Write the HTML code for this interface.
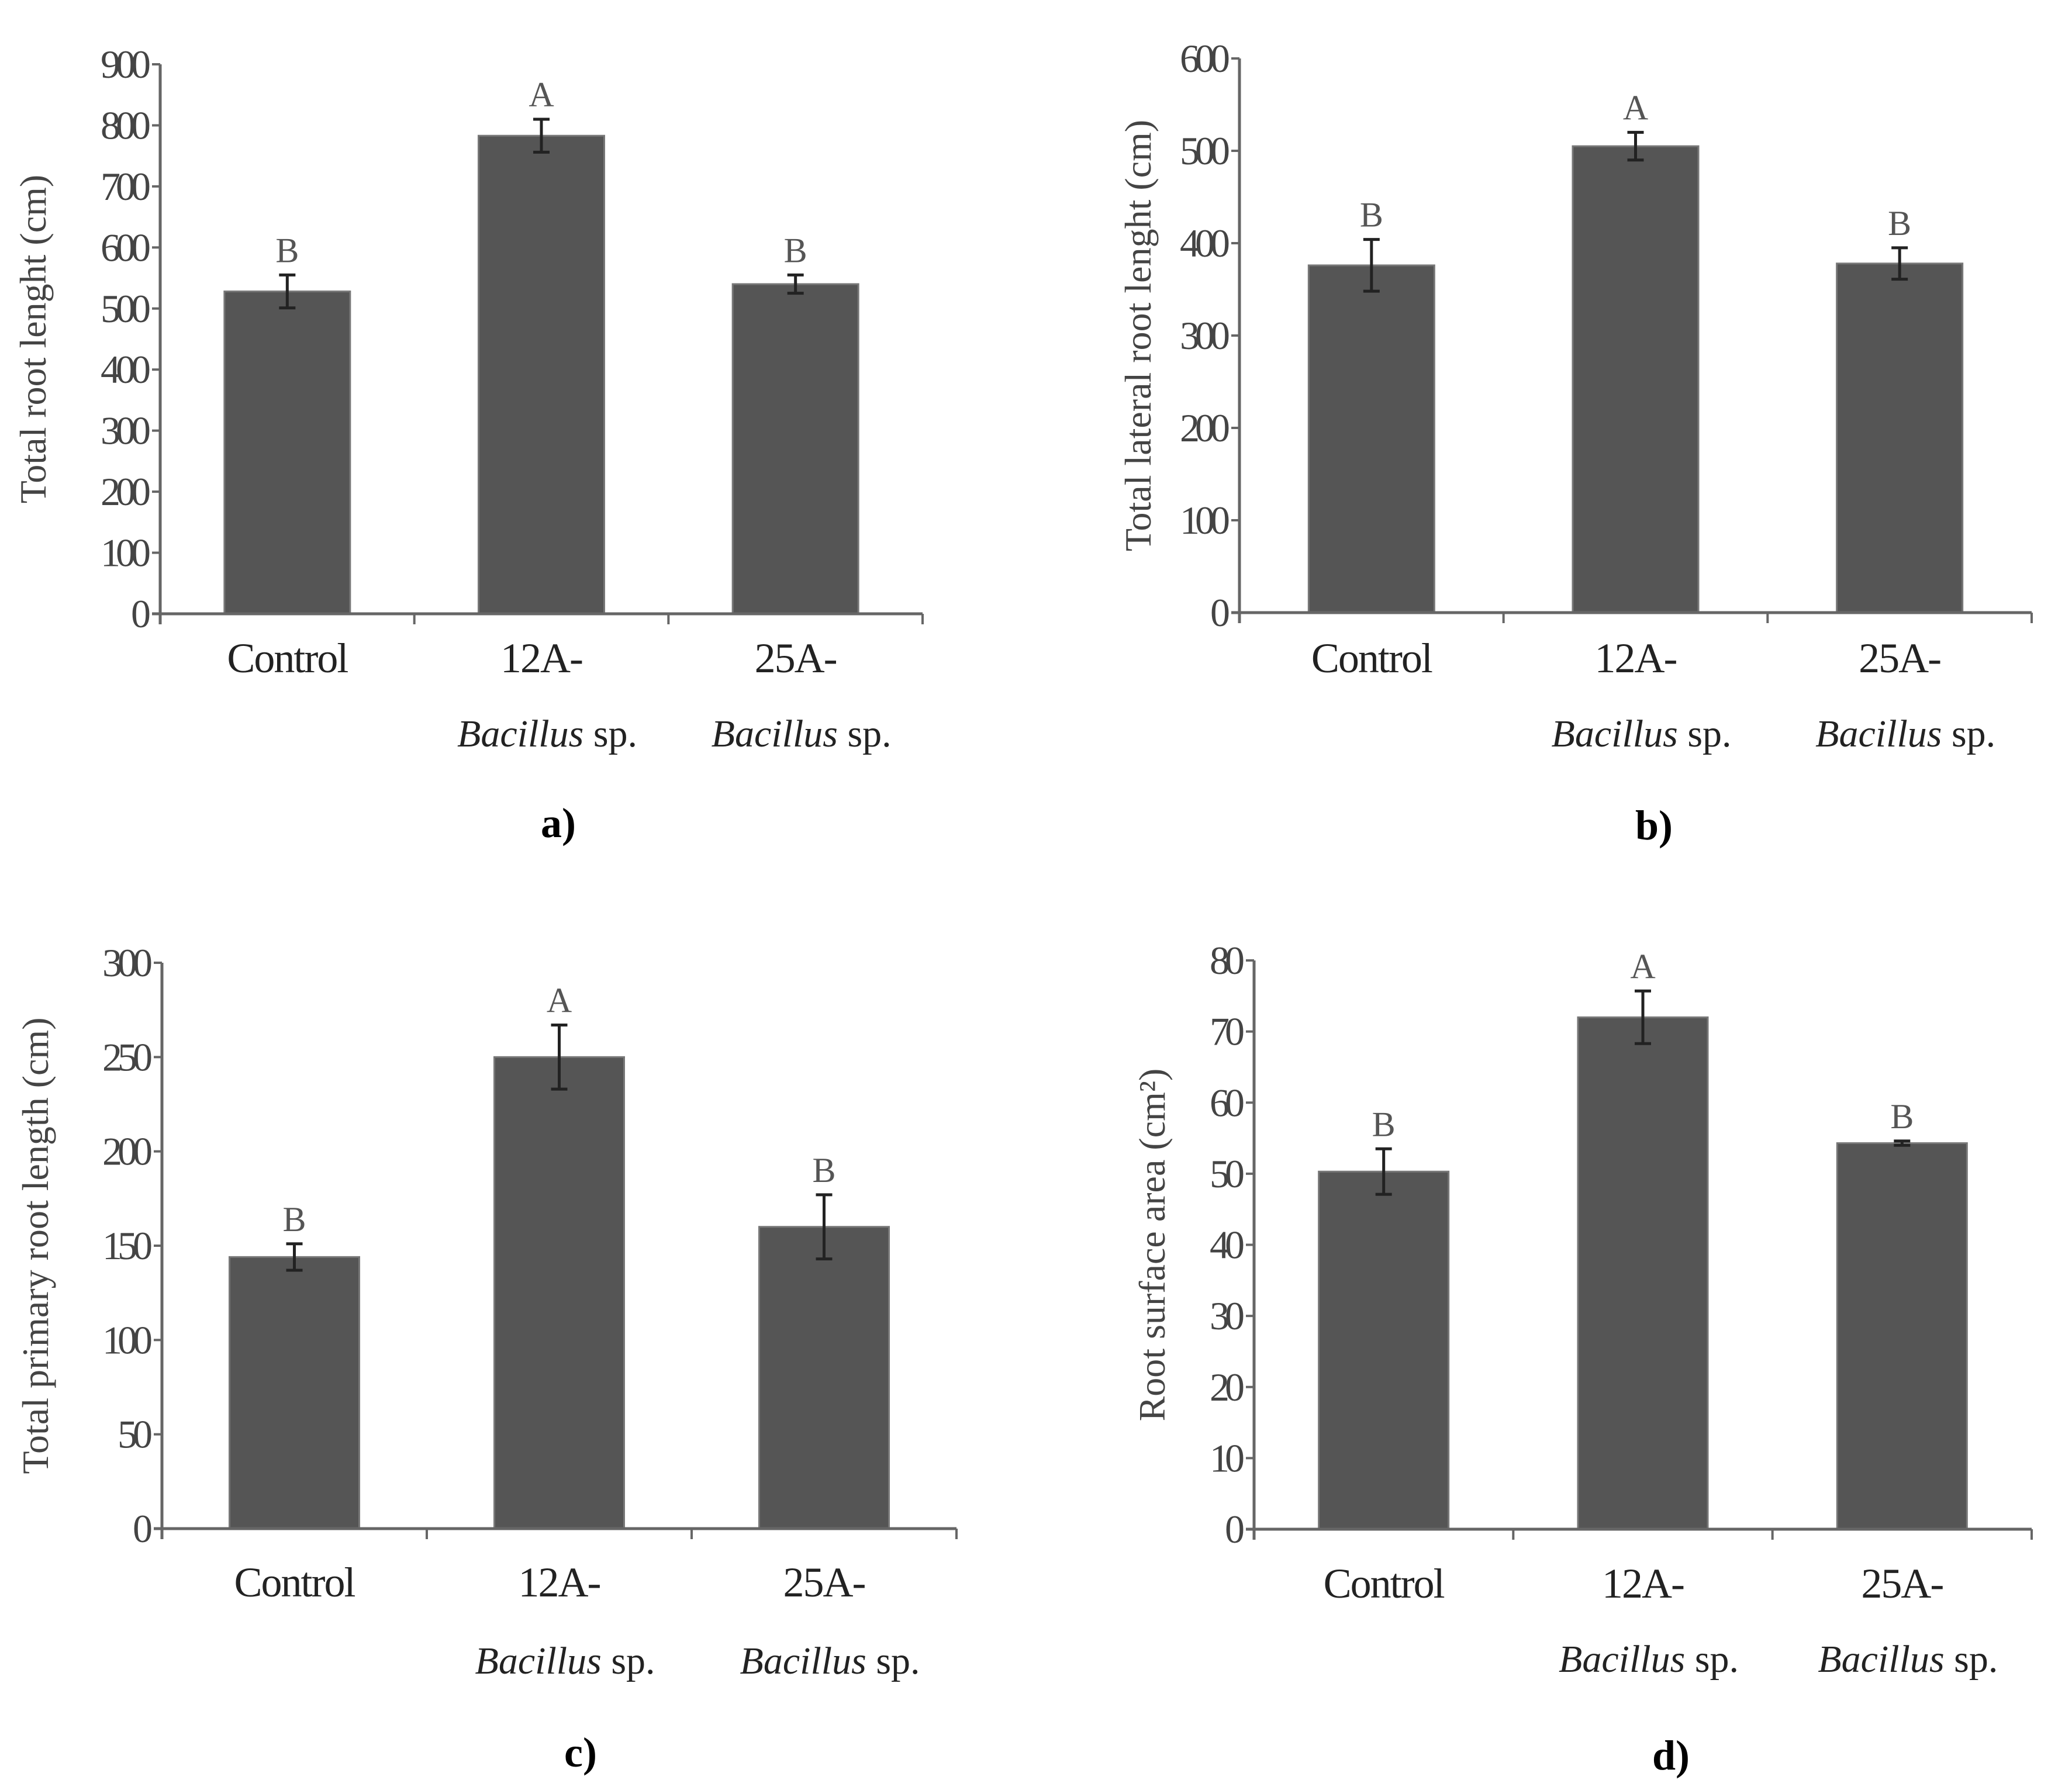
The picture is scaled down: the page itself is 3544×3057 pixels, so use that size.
<!DOCTYPE html>
<html><head><meta charset="utf-8"><style>
html,body{margin:0;padding:0;background:#fff}
svg{display:block}
</style></head><body>
<svg id="fig" width="3544" height="3057" xmlns="http://www.w3.org/2000/svg" font-family="'Liberation Serif', serif"></svg>
<script>
const categories = ["Control","12A-","25A-"];
const subLabels = ["","Bacillus","Bacillus"];
const valuesA = [528, 783, 540];
const errorsA = [27, 27, 15];
const lettersA = ["B","A","B"];
const ticksA = [0,100,200,300,400,500,600,700,800,900];
const valuesB = [376, 505, 378];
const errorsB = [28, 15, 17];
const lettersB = ["B","A","B"];
const ticksB = [0,100,200,300,400,500,600];
const valuesC = [144, 250, 160];
const errorsC = [7, 17, 17];
const lettersC = ["B","A","B"];
const ticksC = [0,50,100,150,200,250,300];
const valuesD = [50.3, 72, 54.3];
const errorsD = [3.2, 3.7, 0.3];
const lettersD = ["B","A","B"];
const ticksD = [0,10,20,30,40,50,60,70,80];

const NS="http://www.w3.org/2000/svg";
const svg=document.getElementById('fig');
function mk(tag, attrs, parent, text){
  const e=document.createElementNS(NS,tag);
  for(const k in attrs) e.setAttribute(k,attrs[k]);
  if(text!==undefined) e.textContent=text;
  parent.appendChild(e); return e;
}
const panels=[
 {id:'a',vals:valuesA,errs:errorsA,letters:lettersA,ticks:ticksA,title:'Total root lenght (cm)',
  x0:274,x1:1578,y0:1050,y1:110,barW:215,catY:1150,subY:1277,panY:1432,panX:955,titleX:78},
 {id:'b',vals:valuesB,errs:errorsB,letters:lettersB,ticks:ticksB,title:'Total lateral root lenght (cm)',
  x0:2120,x1:3475,y0:1048,y1:100,barW:215,catY:1150,subY:1277,panY:1436,panX:2829,titleX:1968},
 {id:'c',vals:valuesC,errs:errorsC,letters:lettersC,ticks:ticksC,title:'Total primary root length (cm)',
  x0:277,x1:1636,y0:2615,y1:1647,barW:222,catY:2731,subY:2863,panY:3022,panX:993,titleX:82},
 {id:'d',vals:valuesD,errs:errorsD,letters:lettersD,ticks:ticksD,title:'Root surface area (cm²)',
  x0:2145,x1:3475,y0:2616,y1:1643,barW:222,catY:2733,subY:2860,panY:3027,panX:2858,titleX:1992}
];
panels.forEach(p=>{
  const g=mk('g',{},svg);
  
  
  const tmax=p.ticks[p.ticks.length-1];
  const yS=v=>p.y0-(v/tmax)*(p.y0-p.y1);
  const band=(p.x1-p.x0)/categories.length;
  const xC=i=>p.x0+band*(i+0.5);
  const ya=mk('line',{x1:p.x0,y1:p.y1,x2:p.x0,y2:p.y0+18,stroke:'#666','stroke-width':5},g);
  
  
  p.ticks.forEach(t=>{
    const y=yS(t);
    const tk=mk('line',{x1:p.x0-14,y1:y,x2:p.x0,y2:y,stroke:'#666','stroke-width':4},g);
    
    
    const tl=mk('text',{x:p.x0-24,y:y+23,'text-anchor':'end','font-size':68,fill:'#444','letter-spacing':'-8'},g,String(t));
    
    
  });
  p.vals.forEach((v,i)=>{
    const b=mk('rect',{x:xC(i)-p.barW/2,y:yS(v),width:p.barW,height:p.y0-yS(v),fill:'#555',stroke:'#777','stroke-width':3},g);
    
    
    const e=p.errs[i], yt=yS(v+e), yb=yS(v-e);
    const eb=mk('path',{d:`M${xC(i)} ${yt}V${yb}M${xC(i)-14} ${yt}H${xC(i)+14}M${xC(i)-14} ${yb}H${xC(i)+14}`,stroke:'#222','stroke-width':5,fill:'none'},g);
    
    
    const lt=mk('text',{x:xC(i),y:yt-22,'text-anchor':'middle','font-size':60,fill:'#555'},g,p.letters[i]);
    
    
    const cl=mk('text',{x:xC(i),y:p.catY,'text-anchor':'middle','font-size':72,fill:'#222','letter-spacing':'-2'},g,categories[i]);
    
    
    if(subLabels[i]){
      const st=mk('text',{x:xC(i)+10,y:p.subY,'text-anchor':'middle','font-size':66,fill:'#222'},g);
      
      
      mk('tspan',{'font-style':'italic'},st,subLabels[i]);
      mk('tspan',{},st,' sp.');
    }
  });
  const xa=mk('line',{x1:p.x0-14,y1:p.y0,x2:p.x1,y2:p.y0,stroke:'#666','stroke-width':5},g);
  
  
  for(let k=0;k<=categories.length;k++){
    const x=p.x0+band*k;
    const xt=mk('line',{x1:x,y1:p.y0,x2:x,y2:p.y0+18,stroke:'#666','stroke-width':4},g);
    
    
  }
  const ty=(p.y0+p.y1)/2;
  const tt=mk('text',{x:p.titleX,y:ty,'text-anchor':'middle','font-size':64,fill:'#444',transform:`rotate(-90 ${p.titleX} ${ty})`},g,p.title);
  
  
  const pl=mk('text',{x:p.panX,y:p.panY,'text-anchor':'middle','font-size':72,'font-weight':'bold',fill:'#000'},g,p.id+')');
  
  
});
</script>
</body></html>
